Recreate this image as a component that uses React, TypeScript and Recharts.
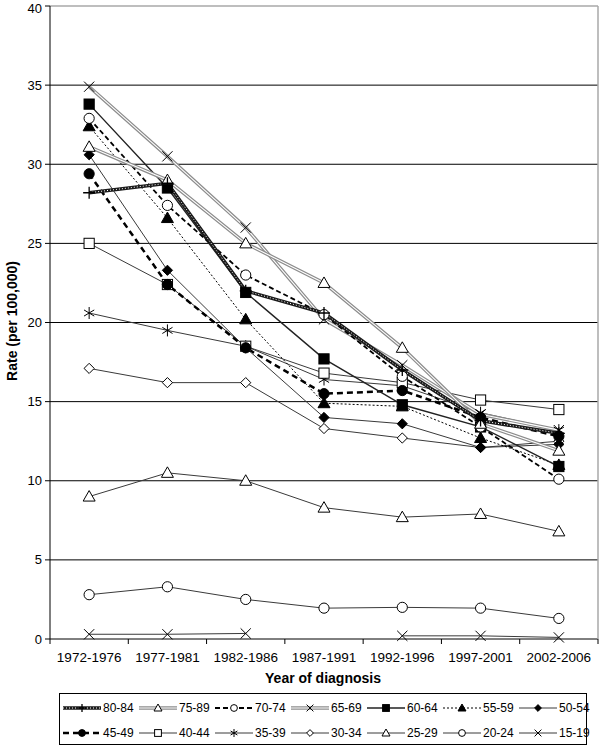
import React from "react";
import { LineChart, Line, XAxis, YAxis, CartesianGrid, ReferenceLine } from "recharts";

const periods = ["1972-1976", "1977-1981", "1982-1986", "1987-1991", "1992-1996", "1997-2001", "2002-2006"];
const yTicks = [0, 5, 10, 15, 20, 25, 30, 35, 40];

const r8084 = [28.2, 28.8, 22.0, 20.6, 17.0, 13.8, 13.0];
const r7589 = [31.1, 29.0, 25.0, 22.5, 18.4, 13.6, 11.9];
const r7074 = [32.9, 27.4, 23.0, 20.5, 16.6, 13.4, 10.1];
const r6569 = [34.9, 30.5, 26.0, 20.2, 17.3, 14.2, 13.2];
const r6064 = [33.8, 28.5, 21.9, 17.7, 14.8, 13.4, 10.9];
const r5559 = [32.4, 26.6, 20.2, 14.9, 14.7, 12.7, 11.0];
const r5054 = [30.6, 23.3, 18.4, 14.0, 13.6, 12.1, 12.3];
const r4549 = [29.4, 22.4, 18.4, 15.5, 15.7, 14.0, 12.8];
const r4044 = [25.0, 22.4, 18.5, 16.8, 16.2, 15.1, 14.5];
const r3539 = [20.6, 19.5, 18.5, 16.4, 16.0, 14.3, 13.2];
const r3034 = [17.1, 16.2, 16.2, 13.3, 12.7, 12.1, 12.5];
const r2529 = [9.0, 10.5, 10.0, 8.3, 7.7, 7.9, 6.8];
const r2024 = [2.8, 3.3, 2.5, 1.95, 2.0, 1.95, 1.3];
const r1519 = [0.3, 0.3, 0.35, null, 0.2, 0.2, 0.1];

type Kind = "plus" | "triOpen" | "triFill" | "circOpen" | "circFill" | "sqOpen" | "sqFill" | "diaOpen" | "diaFill" | "x" | "star";
type Look = "dark" | "gray" | "dash" | "dashBold" | "dot" | "solid" | "solidBold";

const series: { key: string; name: string; values: (number | null)[]; kind: Kind; look: Look }[] = [
  { key: "g8084", name: "80-84", values: r8084, kind: "plus", look: "dark" },
  { key: "g7589", name: "75-89", values: r7589, kind: "triOpen", look: "gray" },
  { key: "g7074", name: "70-74", values: r7074, kind: "circOpen", look: "dash" },
  { key: "g6569", name: "65-69", values: r6569, kind: "x", look: "gray" },
  { key: "g6064", name: "60-64", values: r6064, kind: "sqFill", look: "solidBold" },
  { key: "g5559", name: "55-59", values: r5559, kind: "triFill", look: "dot" },
  { key: "g5054", name: "50-54", values: r5054, kind: "diaFill", look: "solid" },
  { key: "g4549", name: "45-49", values: r4549, kind: "circFill", look: "dashBold" },
  { key: "g4044", name: "40-44", values: r4044, kind: "sqOpen", look: "solid" },
  { key: "g3539", name: "35-39", values: r3539, kind: "star", look: "solid" },
  { key: "g3034", name: "30-34", values: r3034, kind: "diaOpen", look: "solid" },
  { key: "g2529", name: "25-29", values: r2529, kind: "triOpen", look: "solid" },
  { key: "g2024", name: "20-24", values: r2024, kind: "circOpen", look: "solid" },
  { key: "g1519", name: "15-19", values: r1519, kind: "x", look: "solid" },
];

const data = periods.map((p, i) => {
  const row: Record<string, string | number | null> = { period: p };
  series.forEach((s) => (row[s.key] = s.values[i]));
  return row;
});

const W = 600;
const H = 747;
const M = { top: 6, right: 1, bottom: 78, left: 0 };
const Y_W = 50;
const X_H = 30;
const PLOT_LEFT = M.left + Y_W;
const PLOT_RIGHT = W - M.right - 1;
const PLOT_BOTTOM = H - M.bottom - X_H;
const BAND = (PLOT_RIGHT - PLOT_LEFT) / periods.length;
const FONT = "'Liberation Sans', Arial, sans-serif";

function Marker({ kind, cx, cy, r = 6 }: { kind: Kind; cx: number; cy: number; r?: number }) {
  const st = { stroke: "#000", strokeWidth: 1 };
  switch (kind) {
    case "plus":
      return <path d={`M${cx - r},${cy}H${cx + r}M${cx},${cy - r}V${cy + r}`} {...st} strokeWidth={1.3} />;
    case "x": {
      const d = r * 0.85;
      return <path d={`M${cx - d},${cy - d}L${cx + d},${cy + d}M${cx - d},${cy + d}L${cx + d},${cy - d}`} {...st} />;
    }
    case "star": {
      const d = r * 0.85;
      return (
        <path
          d={`M${cx - d},${cy - d * 0.6}L${cx + d},${cy + d * 0.6}M${cx - d},${cy + d * 0.6}L${cx + d},${cy - d * 0.6}M${cx},${cy - r}V${cy + r}`}
          {...st}
        />
      );
    }
    case "triOpen":
    case "triFill":
      return (
        <polygon
          points={`${cx},${cy - r} ${cx + r},${cy + r * 0.75} ${cx - r},${cy + r * 0.75}`}
          fill={kind === "triFill" ? "#000" : "#fff"}
          {...st}
        />
      );
    case "circOpen":
    case "circFill":
      return <circle cx={cx} cy={cy} r={r * 0.85} fill={kind === "circFill" ? "#000" : "#fff"} {...st} />;
    case "sqOpen":
    case "sqFill": {
      const h = r * 0.85;
      return <rect x={cx - h} y={cy - h} width={h * 2} height={h * 2} fill={kind === "sqFill" ? "#000" : "#fff"} {...st} />;
    }
    case "diaOpen":
    case "diaFill": {
      const h = r * 0.85;
      return (
        <polygon
          points={`${cx},${cy - h} ${cx + h},${cy} ${cx},${cy + h} ${cx - h},${cy}`}
          fill={kind === "diaFill" ? "#000" : "#fff"}
          {...st}
        />
      );
    }
  }
  return null;
}

const lookStyle = (look: Look) => {
  switch (look) {
    case "dark":
      return { base: { stroke: "#1a1a1a", strokeWidth: 3.5 }, over: { stroke: "#ffffff", strokeWidth: 1, strokeDasharray: "1 2" } };
    case "gray":
      return { base: { stroke: "#8c8c8c", strokeWidth: 3.5 }, over: { stroke: "#ffffff", strokeWidth: 1.1 } };
    case "dash":
      return { base: { stroke: "#000", strokeWidth: 1.8, strokeDasharray: "5 3" } };
    case "dashBold":
      return { base: { stroke: "#000", strokeWidth: 2.5, strokeDasharray: "6 4" } };
    case "dot":
      return { base: { stroke: "#000", strokeWidth: 1, strokeDasharray: "2 2" } };
    case "solidBold":
      return { base: { stroke: "#222", strokeWidth: 1.4 } };
    default:
      return { base: { stroke: "#3a3a3a", strokeWidth: 1 } };
  }
};

const XTick = (props: any) => {
  const { x, payload, index } = props;
  const y0 = PLOT_BOTTOM;
  return (
    <g>
      <line x1={x - BAND / 2} x2={x - BAND / 2} y1={y0} y2={y0 + 5} stroke="#000" />
      {index === periods.length - 1 && <line x1={x + BAND / 2} x2={x + BAND / 2} y1={y0} y2={y0 + 5} stroke="#000" />}
      <text x={x} y={y0 + 23} textAnchor="middle" fontSize={13.5} fill="#000" fontFamily={FONT}>
        {payload.value}
      </text>
    </g>
  );
};

function LegendSample({ s }: { s: (typeof series)[number] }) {
  const ls = lookStyle(s.look);
  return (
    <svg width={40} height={14} style={{ display: "block" }}>
      <line x1={1} x2={39} y1={7} y2={7} {...(ls.base as any)} />
      {ls.over && <line x1={1} x2={39} y1={7} y2={7} {...(ls.over as any)} />}
      <Marker kind={s.kind} cx={20} cy={7} r={4} />
    </svg>
  );
}

export default function App() {
  const rows = [series.slice(0, 7), series.slice(7)];
  return (
    <div style={{ position: "absolute", left: 0, top: 0, width: W, height: H, background: "#fff", fontFamily: FONT }}>
      <LineChart width={W} height={H} data={data} margin={M}>
        <CartesianGrid vertical={false} horizontalValues={[5, 10, 15, 20, 25, 30, 35]} stroke="#000" strokeOpacity={1} />
        <ReferenceLine y={40} stroke="#a8a8a8" strokeWidth={1.5} />
        <XAxis
          dataKey="period"
          scale="band"
          height={X_H}
          axisLine={{ stroke: "#000" }}
          tickLine={false}
          tick={<XTick />}
          interval={0}
          label={{
            content: () => (
              <text x={323} y={683} textAnchor="middle" fontSize={14} fontWeight="bold" fill="#000" fontFamily={FONT}>
                Year of diagnosis
              </text>
            ),
          }}
        />
        <YAxis
          domain={[0, 40]}
          ticks={yTicks}
          width={Y_W}
          axisLine={{ stroke: "#000" }}
          tickLine={{ stroke: "#000" }}
          tickSize={5}
          tickMargin={3}
          tick={{ fontSize: 13, fill: "#000", fontFamily: FONT }}
          label={{
            content: () => (
              <text x={17} y={321} transform="rotate(-90 17 321)" textAnchor="middle" fontSize={14} fontWeight="bold" fill="#000" fontFamily={FONT}>
                Rate (per 100,000)
              </text>
            ),
          }}
        />
        <YAxis yAxisId="r" orientation="right" width={1} domain={[0, 40]} tick={false} tickLine={false} axisLine={{ stroke: "#a8a8a8", strokeWidth: 1.5 }} />
        {[...series].reverse().flatMap((s) => {
          const ls = lookStyle(s.look);
          const dot = (p: any) => {
            if (p.cx == null || p.cy == null || p.value == null || Number.isNaN(p.cy)) return <g key={`${s.key}-${p.index}`} />;
            return <Marker key={`${s.key}-${p.index}`} kind={s.kind} cx={p.cx} cy={p.cy} />;
          };
          const out = [
            <Line
              key={s.key}
              dataKey={s.key}
              type="linear"
              {...(ls.base as any)}
              dot={ls.over ? false : dot}
              activeDot={false}
              isAnimationActive={false}
            />,
          ];
          if (ls.over) {
            out.push(
              <Line
                key={s.key + "-o"}
                dataKey={s.key}
                type="linear"
                {...(ls.over as any)}
                dot={dot}
                activeDot={false}
                isAnimationActive={false}
              />
            );
          }
          return out;
        })}
      </LineChart>
      <div
        style={{
          position: "absolute",
          left: 59,
          top: 693,
          width: 526,
          height: 50,
          border: "1px solid #000",
          fontSize: 12,
          color: "#000",
        }}
      >
        {rows.map((row, ri) => (
          <div key={ri} style={{ position: "absolute", left: 2, top: ri === 0 ? 7 : 32, display: "flex" }}>
            {row.map((s) => (
              <div key={s.key} style={{ width: 76, display: "flex", alignItems: "center" }}>
                <LegendSample s={s} />
                <span style={{ marginLeft: 1, lineHeight: "14px" }}>{s.name}</span>
              </div>
            ))}
          </div>
        ))}
      </div>
    </div>
  );
}
